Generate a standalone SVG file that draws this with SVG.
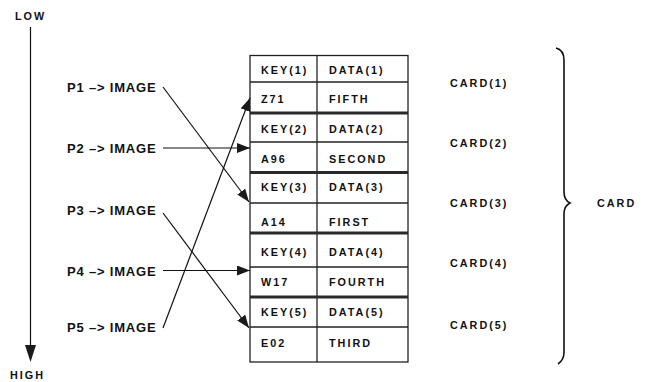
<svg xmlns="http://www.w3.org/2000/svg" width="650" height="382" viewBox="0 0 650 382">
  <style>
    .t { font-family: "Liberation Sans", Arial, sans-serif; font-weight: bold; font-size: 10.8px; letter-spacing: 2px; fill: #111; }
    .p { font-family: "Liberation Sans", Arial, sans-serif; font-weight: bold; font-size: 13px; letter-spacing: 0.8px; fill: #111; }
    .ln { stroke: #111; stroke-width: 1.2; fill: none; }
    .grid { stroke: #222; stroke-width: 1.3; fill: none; }
    .sep { stroke: #2a2a2a; stroke-width: 3.2; fill: none; }
    .conn { stroke: #111; stroke-width: 1.2; fill: none; marker-end: url(#ah); }
  </style>
  <defs>
    <marker id="ah" markerUnits="userSpaceOnUse" markerWidth="14" markerHeight="10" refX="13" refY="5" orient="auto">
      <path d="M0,0 L13,5 L0,10 Z" fill="#1a1a1a"/>
    </marker>
  </defs>
  <rect width="650" height="382" fill="#fff"/>

  <!-- LOW / HIGH axis -->
  <g id="axis">
    <text class="t" x="15" y="20">LOW</text>
    <line x1="30.5" y1="27" x2="30.5" y2="346" class="ln" stroke-width="1.3"/>
    <path d="M25,345 L36,345 L30.5,362 Z" fill="#1a1a1a"/>
    <text class="t" x="10" y="379">HIGH</text>
  </g>

  <!-- Pointer labels -->
  <g id="p1"><text class="p" x="67" y="92">P1 –&gt; IMAGE</text></g>
  <g id="p2"><text class="p" x="67" y="153">P2 –&gt; IMAGE</text></g>
  <g id="p3"><text class="p" x="67" y="215">P3 –&gt; IMAGE</text></g>
  <g id="p4"><text class="p" x="67" y="276">P4 –&gt; IMAGE</text></g>
  <g id="p5"><text class="p" x="67" y="332">P5 –&gt; IMAGE</text></g>

  <!-- Table -->
  <g id="table">
    <rect x="250" y="55.5" width="158" height="306.5" class="grid" stroke-width="1.5"/>
    <line x1="317" y1="55.5" x2="317" y2="362" class="grid"/>
    <line x1="250" y1="82" x2="408" y2="82" class="grid"/>
    <line x1="250" y1="142" x2="408" y2="142" class="grid"/>
    <line x1="250" y1="203" x2="408" y2="203" class="grid"/>
    <line x1="250" y1="267" x2="408" y2="267" class="grid"/>
    <line x1="250" y1="327" x2="408" y2="327" class="grid"/>
    <line x1="250" y1="113" x2="408" y2="113" class="sep"/>
    <line x1="250" y1="172.5" x2="408" y2="172.5" class="sep"/>
    <line x1="250" y1="233" x2="408" y2="233" class="sep"/>
    <line x1="250" y1="297" x2="408" y2="297" class="sep"/>
  </g>
  <g id="card1">
    <text class="t" x="261" y="74.3">KEY(1)</text>
    <text class="t" x="329" y="74.3">DATA(1)</text>
    <text class="t" x="261" y="103">Z71</text>
    <text class="t" x="329" y="103">FIFTH</text>
  </g>
  <g id="card2">
    <text class="t" x="261" y="133">KEY(2)</text>
    <text class="t" x="329" y="133">DATA(2)</text>
    <text class="t" x="261" y="163">A96</text>
    <text class="t" x="329" y="163">SECOND</text>
  </g>
  <g id="card3">
    <text class="t" x="261" y="190.5">KEY(3)</text>
    <text class="t" x="329" y="190.5">DATA(3)</text>
    <text class="t" x="261" y="225.5">A14</text>
    <text class="t" x="329" y="225.5">FIRST</text>
  </g>
  <g id="card4">
    <text class="t" x="261" y="255.5">KEY(4)</text>
    <text class="t" x="329" y="255.5">DATA(4)</text>
    <text class="t" x="261" y="285.5">W17</text>
    <text class="t" x="329" y="285.5">FOURTH</text>
  </g>
  <g id="card5">
    <text class="t" x="261" y="315.5">KEY(5)</text>
    <text class="t" x="329" y="315.5">DATA(5)</text>
    <text class="t" x="261" y="347">E02</text>
    <text class="t" x="329" y="347">THIRD</text>
  </g>

  <!-- Card labels -->
  <g id="cardlabels">
    <text class="t" x="450" y="87">CARD(1)</text>
    <text class="t" x="450" y="147">CARD(2)</text>
    <text class="t" x="450" y="207">CARD(3)</text>
    <text class="t" x="450" y="267">CARD(4)</text>
    <text class="t" x="450" y="329">CARD(5)</text>
  </g>

  <!-- Brace -->
  <g id="brace">
    <path d="M556,48 Q564,50 564,60 L564,192 Q564,200 570,203 Q564,206 564,214 L564,352 Q564,360 558,364" stroke="#111" stroke-width="1.6" fill="none"/>
    <text class="t" x="597" y="207">CARD</text>
  </g>

  <!-- Connectors -->
  <g id="connectors">
    <line x1="163" y1="87" x2="249" y2="202" class="conn"/>
    <line x1="163" y1="148" x2="250" y2="148" class="conn"/>
    <line x1="163" y1="213" x2="249" y2="328" class="conn"/>
    <line x1="163" y1="270.5" x2="250" y2="270.5" class="conn"/>
    <line x1="163" y1="328" x2="250" y2="98" class="conn"/>
  </g>
</svg>
